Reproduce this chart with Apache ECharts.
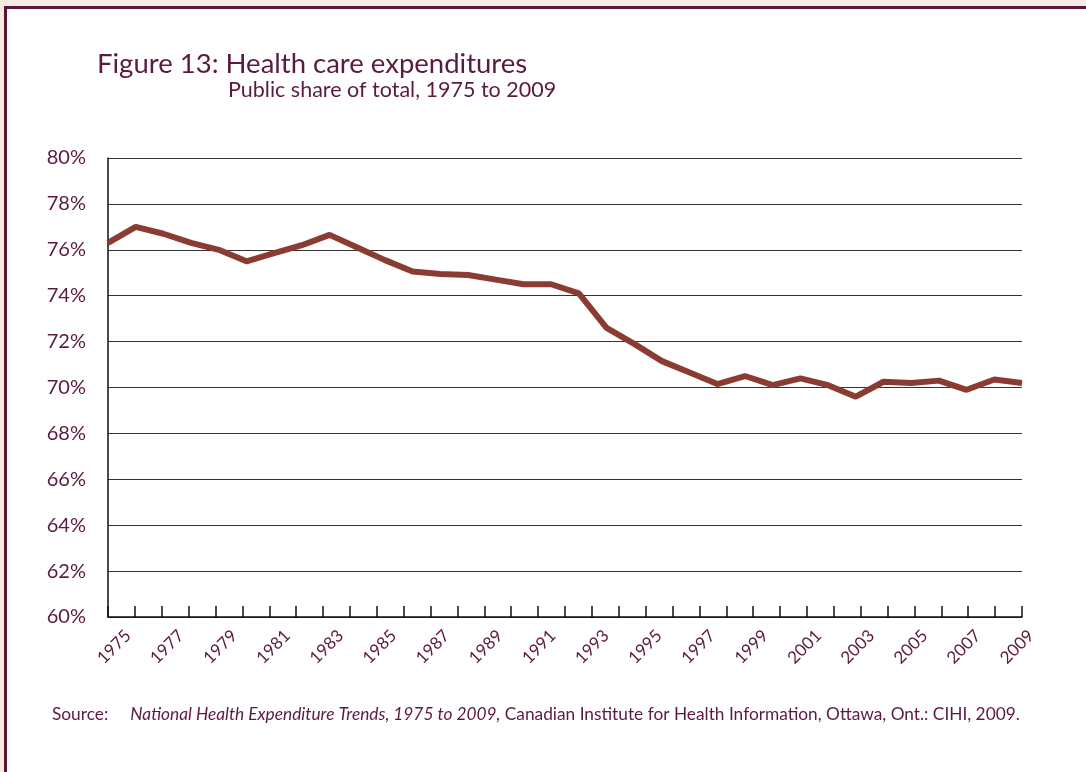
<!DOCTYPE html>
<html>
<head>
<meta charset="utf-8">
<script src="https://cdn.jsdelivr.net/npm/echarts@6/dist/echarts.min.js"></script>
<style>
  html, body { margin: 0; padding: 0; background: #f4ece2; }
  #chart { width: 1086px; height: 772px; }
</style>
</head>
<body>
<div id="chart"></div>
<script>
// axis years shown under the chart
const years = []
for (let y = 1975; y <= 2009; y++) years.push(String(y))

// public share of total health expenditure (%), as drawn: 34 points stretched over the axis
const publicShare = [
  76.3, 77.0, 76.7, 76.3, 76.0, 75.5, 75.85, 76.2, 76.65, 76.1,
  75.55, 75.05, 74.95, 74.9, 74.7, 74.5, 74.5, 74.1, 72.6, 71.9,
  71.15, 70.65, 70.15, 70.5, 70.1, 70.4, 70.1, 69.6, 70.25, 70.2,
  70.3, 69.9, 70.35, 70.2
]
const pointKeys = publicShare.map((v, i) => 'p' + i)

const yTicks = { min: 60, max: 80, step: 2 }

const maroon = '#5b1a3f'
const font = 'Lato'

const chart = echarts.init(document.getElementById('chart'))
chart.setOption({
  backgroundColor: '#f4ece2',
  animation: false,
  textStyle: { fontFamily: font },
  graphic: [
    {
      type: 'rect',
      z: -10,
      shape: { x: 5.5, y: 7.5, width: 1200, height: 900 },
      style: { fill: '#fff', stroke: '#5a1639', lineWidth: 3 }
    },
    {
      type: 'text',
      left: 97,
      top: 50,
      style: { text: 'Figure 13: Health care expenditures', fill: maroon, font: '27.5px ' + font }
    },
    {
      type: 'text',
      left: 228,
      top: 79,
      style: { text: 'Public share of total, 1975 to 2009', fill: maroon, font: '21.5px ' + font }
    },
    {
      type: 'text',
      left: 52,
      top: 706,
      style: {
        text: 'Source:     {i|National Health Expenditure Trends, 1975 to 2009,} Canadian Institute for Health Information, Ottawa, Ont.: CIHI, 2009.',
        fill: maroon,
        font: '17.3px ' + font,
        rich: {
          i: { fontStyle: 'italic', fontSize: 17.3, fontFamily: font, fill: maroon }
        }
      }
    }
  ],
  grid: [
    { left: 108, right: 64, top: 158, bottom: 155, containLabel: false },
    { left: 128, right: 55, top: 158, bottom: 155, containLabel: false }
  ],
  xAxis: [
    {
      gridIndex: 0,
      type: 'category',
      data: years,
      boundaryGap: false,
      axisLine: { show: true, lineStyle: { color: '#111', width: 1.5 } },
      axisTick: { show: true, inside: true, length: 11, interval: 0, lineStyle: { color: '#111', width: 1.5 } },
      axisLabel: { show: false },
      splitLine: { show: false }
    },
    {
      // line points sit on their own hidden axis spanning the same width
      gridIndex: 0,
      type: 'category',
      data: pointKeys,
      boundaryGap: false,
      show: false
    },
    {
      // year labels, rotated
      gridIndex: 1,
      type: 'category',
      data: years,
      boundaryGap: false,
      axisLine: { show: false },
      axisTick: { show: false },
      splitLine: { show: false },
      axisLabel: { interval: 1, rotate: 45, margin: 16, color: maroon, fontSize: 17, fontFamily: font }
    }
  ],
  yAxis: [
    {
      gridIndex: 0,
      type: 'value',
      min: yTicks.min,
      max: yTicks.max,
      interval: yTicks.step,
      axisLine: { show: true, lineStyle: { color: '#111', width: 1.5 } },
      axisTick: { show: false },
      axisLabel: { formatter: '{value}%', color: maroon, fontSize: 20, margin: 22, fontFamily: font },
      splitLine: { show: true, lineStyle: { color: '#333', width: 1 } }
    },
    {
      gridIndex: 1,
      type: 'value',
      min: yTicks.min,
      max: yTicks.max,
      show: false
    }
  ],
  series: [{
    type: 'line',
    xAxisIndex: 1,
    yAxisIndex: 0,
    data: publicShare,
    symbol: 'none',
    lineStyle: { color: '#8a3c33', width: 6 }
  }]
})
</script>
</body>
</html>
